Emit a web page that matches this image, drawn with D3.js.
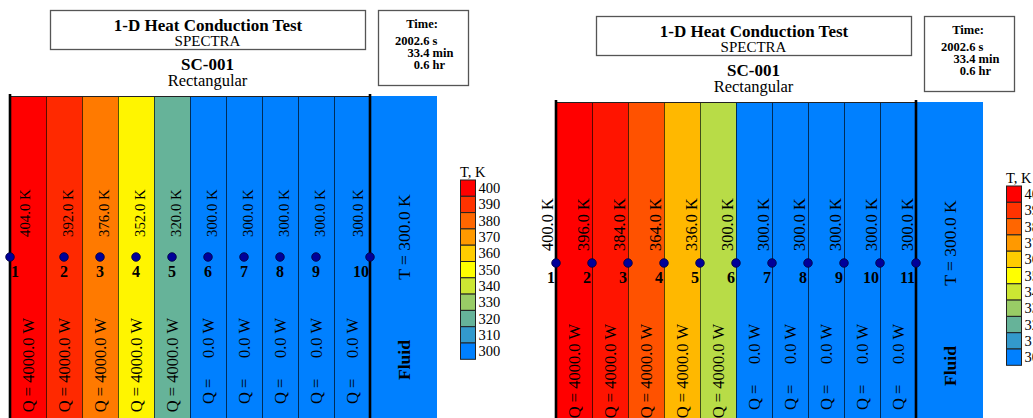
<!DOCTYPE html>
<html>
<head>
<meta charset="utf-8">
<script src="https://cdn.jsdelivr.net/npm/d3@7"></script>
<style>
  body { margin: 0; background: #fff; }
  svg { display: block; font-family: "Liberation Serif", "Times New Roman", Times, serif; }
</style>
</head>
<body>
<svg id="chart" width="1033" height="418"></svg>
<script>
// colour legend (T, K)
const legendLevels = [400, 390, 380, 370, 360, 350, 340, 330, 320, 310, 300];
const legendColors = ['#ff0000', '#ff3300', '#ff6600', '#ff9900', '#ffcc00', '#ffff00',
                      '#cce633', '#99cc66', '#66b399', '#3399cc', '#0080ff'];

const titleText = '1-D Heat Conduction Test';
const codeText = 'SPECTRA';
const caseText = 'SC-001';
const geomText = 'Rectangular';
const timeLines = ['2002.6 s', '33.4 min', '0.6 hr'];
const fluidT = 300.0;

// left panel: 10 cells, boundary nodes + cell-centre nodes (positions in cell units)
const leftNodeX = [0, 1.5, 2.5, 3.5, 4.5, 5.5, 6.5, 7.5, 8.5, 10];
const leftNodeT = [404, 392, 376, 352, 320, 300, 300, 300, 300, 300];
const leftCellQ = [4000, 4000, 4000, 4000, 4000, 0, 0, 0, 0, 0];

// right panel: 10 cells, 11 face nodes
const rightNodeX = [0, 1, 2, 3, 4, 5, 6, 7, 8, 9, 10];
const rightNodeT = [400, 396, 384, 364, 336, 300, 300, 300, 300, 300, 300];
const rightCellQ = [4000, 4000, 4000, 4000, 4000, 0, 0, 0, 0, 0];

const svg = d3.select('#chart');
const color = d3.scaleLinear().domain(legendLevels).range(legendColors).clamp(true);

function drawPanel(opt) {
  const g = svg.append('g').attr('transform', `translate(${opt.dx},${opt.dy})`);
  const nCells = opt.cellQ.length;
  const x = d3.scaleLinear().domain([0, nCells]).range([10, 370]);
  const cellW = x(1) - x(0);
  const top = 96, bottom = 430, nodeY = 257;

  // header boxes
  g.append('rect').attr('x', 50.5).attr('y', 10.5).attr('width', 315).attr('height', 39)
    .attr('fill', '#fff').attr('stroke', '#555').attr('stroke-width', 1.3);
  g.append('text').attr('x', 208).attr('y', 30.5).attr('text-anchor', 'middle')
    .attr('font-size', 17).attr('font-weight', 'bold').text(titleText);
  g.append('text').attr('x', 207.5).attr('y', 46).attr('text-anchor', 'middle')
    .attr('font-size', 15).text(codeText);
  g.append('text').attr('x', 207.5).attr('y', 69.5).attr('text-anchor', 'middle')
    .attr('font-size', 17).attr('font-weight', 'bold').text(caseText);
  g.append('text').attr('x', 207.5).attr('y', 86).attr('text-anchor', 'middle')
    .attr('font-size', 16.5).text(geomText);

  g.append('rect').attr('x', 378.5).attr('y', 10.5).attr('width', 90).attr('height', 75)
    .attr('fill', '#fff').attr('stroke', '#555').attr('stroke-width', 1.3);
  g.append('text').attr('x', 422).attr('y', 28).attr('text-anchor', 'middle')
    .attr('font-size', 12.5).attr('font-weight', 'bold').text('Time:');
  timeLines.forEach((s, i) => {
    const k = s.indexOf('.');
    g.append('text').attr('x', 420).attr('y', 45 + i * 12).attr('text-anchor', 'end')
      .attr('font-size', 12.5).attr('font-weight', 'bold').text(s.slice(0, k));
    g.append('text').attr('x', 420).attr('y', 45 + i * 12).attr('font-size', 12.5)
      .attr('font-weight', 'bold').style('white-space', 'pre').text(s.slice(k));
  });

  // cells
  g.selectAll('rect.cell').data(opt.cellQ).join('rect').attr('class', 'cell')
    .attr('x', (d, i) => x(i)).attr('y', top).attr('width', cellW).attr('height', bottom - top)
    .attr('fill', (d, i) => color(opt.nodeT[i]));
  g.append('rect').attr('x', x(nCells)).attr('y', top).attr('width', 67).attr('height', bottom - top)
    .attr('fill', color(fluidT));
  g.selectAll('line.cb').data(d3.range(1, nCells)).join('line').attr('class', 'cb')
    .attr('x1', i => x(i) + 0.5).attr('x2', i => x(i) + 0.5).attr('y1', top).attr('y2', bottom)
    .attr('stroke', '#000').attr('stroke-opacity', 0.65).attr('stroke-width', 1);
  g.append('line').attr('x1', x(0)).attr('x2', x(nCells)).attr('y1', top + 0.5).attr('y2', top + 0.5)
    .attr('stroke', '#222').attr('stroke-width', 1);
  g.selectAll('line.wall').data([0, nCells]).join('line').attr('class', 'wall')
    .attr('x1', d => x(d)).attr('x2', d => x(d)).attr('y1', top - 2).attr('y2', bottom)
    .attr('stroke', '#000').attr('stroke-width', 2.6);

  // heat source labels
  g.selectAll('text.q').data(opt.cellQ).join('text').attr('class', 'q')
    .attr('transform', (d, i) => `translate(${x(i + 0.5) + 6},318) rotate(-90)`)
    .attr('text-anchor', 'end').attr('font-size', 16.5).style('white-space', 'pre')
    .text(d => d > 0 ? `Q = ${d.toFixed(1)} W` : `Q =     ${d.toFixed(1)} W`);

  // fluid labels
  const fx = x(nCells) + 33.5;
  g.append('text').attr('transform', `translate(${fx + 6},237) rotate(-90)`)
    .attr('text-anchor', 'middle').attr('font-size', 17.5).text(`T = ${fluidT.toFixed(1)} K`);
  g.append('text').attr('transform', `translate(${fx + 6},360) rotate(-90)`)
    .attr('text-anchor', 'middle').attr('font-size', 17.5).attr('font-weight', 'bold').text('Fluid');

  // node temperatures
  const n = opt.nodeX.length;
  g.selectAll('text.tn').data(opt.nodeT).join('text').attr('class', 'tn')
    .attr('transform', (d, i) => {
      const px = x(opt.nodeX[i]) + opt.labelDx(i, n);
      return `translate(${px},${nodeY - opt.labelGap}) rotate(-90)`;
    })
    .attr('font-size', opt.labelSize).text(d => `${d.toFixed(1)} K`);

  // nodes
  g.selectAll('circle.node').data(opt.nodeX).join('circle').attr('class', 'node')
    .attr('cx', d => x(d)).attr('cy', nodeY).attr('r', 4.3)
    .attr('fill', '#000099').attr('stroke', '#00003a').attr('stroke-width', 0.8);
  g.selectAll('text.nn').data(opt.nodeX).join('text').attr('class', 'nn')
    .attr('x', (d, i) => x(d) + opt.numDx(i, n)).attr('y', nodeY + 20)
    .attr('text-anchor', (d, i) => opt.numAnchor(i, n))
    .attr('font-size', 16).attr('font-weight', 'bold').text((d, i) => i + 1);

  // legend
  const lg = g.append('g').attr('transform', 'translate(460,180)');
  const bh = 16.3;
  lg.append('text').attr('x', 0).attr('y', -3).attr('font-size', 14.5).text('T, K');
  lg.selectAll('rect').data(legendLevels).join('rect')
    .attr('x', 0.5).attr('y', (d, i) => i * bh).attr('width', 15).attr('height', bh)
    .attr('fill', d => color(d)).attr('stroke', '#222').attr('stroke-width', 1);
  lg.selectAll('text.lv').data(legendLevels).join('text').attr('class', 'lv')
    .attr('x', 18.5).attr('y', (d, i) => i * bh + bh / 2 + 5)
    .attr('font-size', 14.5).text(d => d);
}

drawPanel({
  dx: 0, dy: 0,
  nodeX: leftNodeX, nodeT: leftNodeT, cellQ: leftCellQ,
  labelSize: 14.8, labelGap: 20,
  labelDx: (i, n) => i === 0 ? 20 : (i === n - 1 ? -7 : 9),
  numDx: (i, n) => i === 0 ? 1 : (i === n - 1 ? -1 : 0),
  numAnchor: (i, n) => i === 0 ? 'start' : (i === n - 1 ? 'end' : 'middle')
});

drawPanel({
  dx: 546, dy: 6,
  nodeX: rightNodeX, nodeT: rightNodeT, cellQ: rightCellQ,
  labelSize: 16.4, labelGap: 12,
  labelDx: () => -3,
  numDx: () => -1,
  numAnchor: () => 'end'
});
</script>
</body>
</html>
